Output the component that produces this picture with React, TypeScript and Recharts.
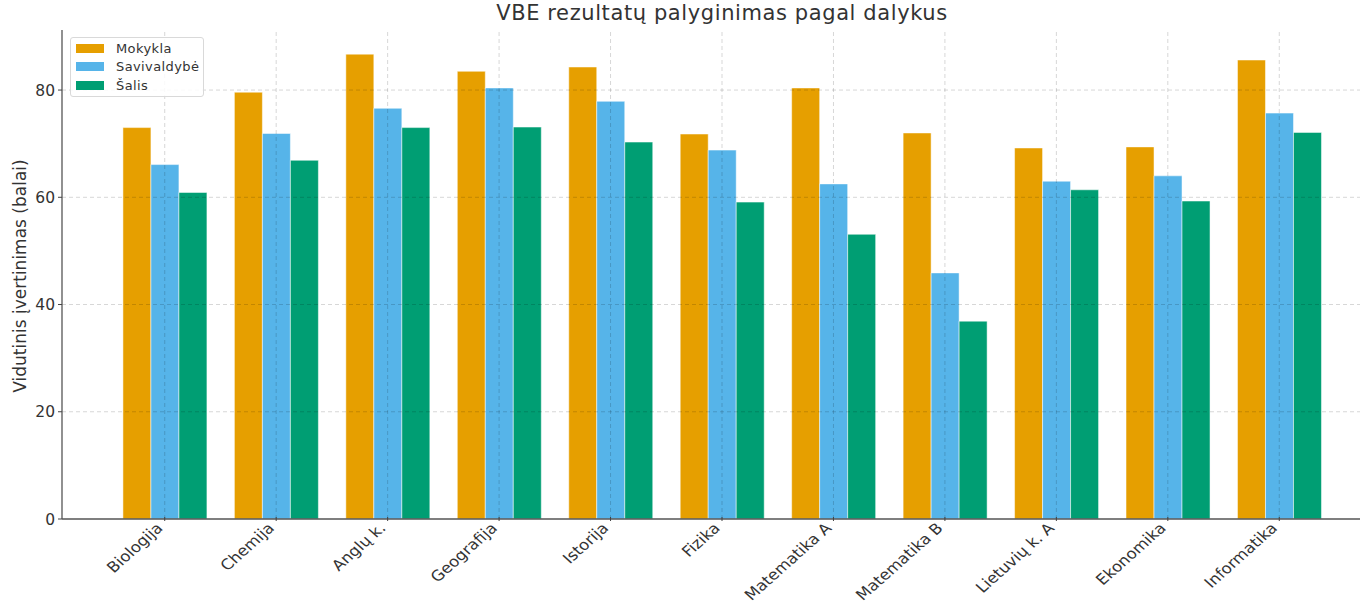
import React from 'react';
import { BarChart, Bar, XAxis, YAxis, ReferenceLine } from 'recharts';

const categories = ['Biologija', 'Chemija', 'Anglų k.', 'Geografija', 'Istorija', 'Fizika', 'Matematika A', 'Matematika B', 'Lietuvių k. A', 'Ekonomika', 'Informatika'];
const mokykla = [73.0, 79.6, 86.7, 83.5, 84.3, 71.8, 80.4, 72.0, 69.2, 69.4, 85.6];
const savivaldybe = [66.1, 71.9, 76.6, 80.4, 77.9, 68.8, 62.5, 45.9, 63.0, 64.0, 75.7];
const salis = [60.9, 66.9, 73.0, 73.1, 70.3, 59.1, 53.1, 36.9, 61.4, 59.3, 72.1];
const yTicks = [0, 20, 40, 60, 80];
const seriesNames = ['Mokykla', 'Savivaldybė', 'Šalis'];
const seriesColors = ['#E69F00', '#56B4E9', '#009E73'];

const data = categories.map((c, i) => ({ name: c, m: mokykla[i], s: savivaldybe[i], a: salis[i] }));

const FONT = '"DejaVu Sans", sans-serif';
const TEXT = '#333333';

const XTick = (props: any) => {
  const { x, y, payload } = props;
  const ax = x - 1;
  const ay = y + 8;
  return (
    <g>
      <line x1={x} x2={x} y1={y} y2={y - 4} stroke="#444" strokeWidth={1} />
      <text x={0} y={0} transform={`translate(${ax} ${ay}) scale(1.12 1) rotate(-45)`} textAnchor="end" fontFamily={FONT} fontSize={14.8} fill={TEXT}>
        {payload.value}
      </text>
    </g>
  );
};

const LegendBox = () => (
  <div style={{ position: 'absolute', left: 70, top: 37, width: 134, height: 60, boxSizing: 'border-box', border: '1px solid #d9d9d9', borderRadius: 3, background: 'rgba(255,255,255,0.85)', padding: '1px 0 0 5px', zIndex: 5 }}>
    {seriesNames.map((n, i) => (
      <div key={n} style={{ display: 'flex', alignItems: 'center', height: 18.5 }}>
        <div style={{ width: 28, height: 9, background: seriesColors[i], marginRight: 12, flex: 'none' }} />
        <span style={{ fontFamily: FONT, fontSize: 13, letterSpacing: 0.4, color: TEXT, whiteSpace: 'nowrap' }}>{n}</span>
      </div>
    ))}
  </div>
);

export default function App() {
  return (
    <div style={{ position: 'absolute', left: 0, top: 0, width: 1361, height: 604, background: '#fff' }}>
      <div style={{ position: 'absolute', left: 0, width: 1444, top: 1, textAlign: 'center', fontFamily: FONT, fontSize: 21, letterSpacing: 0.6, color: TEXT, whiteSpace: 'nowrap' }}>
        VBE rezultatų palyginimas pagal dalykus
      </div>
      <LegendBox />
      <BarChart width={1361} height={604} data={data} margin={{ top: 30, right: 1, left: 0, bottom: 0 }} barCategoryGap="12.5%" barGap={0}>
        <XAxis dataKey="name" interval={0} height={85} padding={{ left: 47, right: 25 }} tickLine={false} tickSize={0} tick={<XTick />} axisLine={{ stroke: '#555', strokeWidth: 1.3 }} />
        <YAxis
          width={62}
          domain={[0, 91.2]}
          ticks={yTicks}
          allowDataOverflow
          tickSize={4}
          tickMargin={3}
          tickLine={{ stroke: '#444' }}
          axisLine={{ stroke: '#555', strokeWidth: 1.3 }}
          tick={{ fontFamily: FONT, fontSize: 15.5, fill: TEXT }}
          label={{
            content: () => (
              <text x={26} y={276} transform="rotate(-90 26 276)" textAnchor="middle" fontFamily={FONT} fontSize={17} fill={TEXT}>
                Vidutinis įvertinimas (balai)
              </text>
            ),
          }}
        />
        <Bar dataKey="m" name={seriesNames[0]} fill={seriesColors[0]} stroke="#fff" strokeWidth={0.5} isAnimationActive={false} />
        <Bar dataKey="s" name={seriesNames[1]} fill={seriesColors[1]} stroke="#fff" strokeWidth={0.5} isAnimationActive={false} />
        <Bar dataKey="a" name={seriesNames[2]} fill={seriesColors[2]} stroke="#fff" strokeWidth={0.5} isAnimationActive={false} />
        {yTicks.filter((t) => t > 0).map((t) => (
          <ReferenceLine key={'y' + t} y={t} stroke="rgba(0,0,0,0.16)" strokeDasharray="4 3" />
        ))}
        {categories.map((c) => (
          <ReferenceLine key={'x' + c} x={c} stroke="rgba(0,0,0,0.16)" strokeDasharray="4 3" />
        ))}
      </BarChart>
    </div>
  );
}
